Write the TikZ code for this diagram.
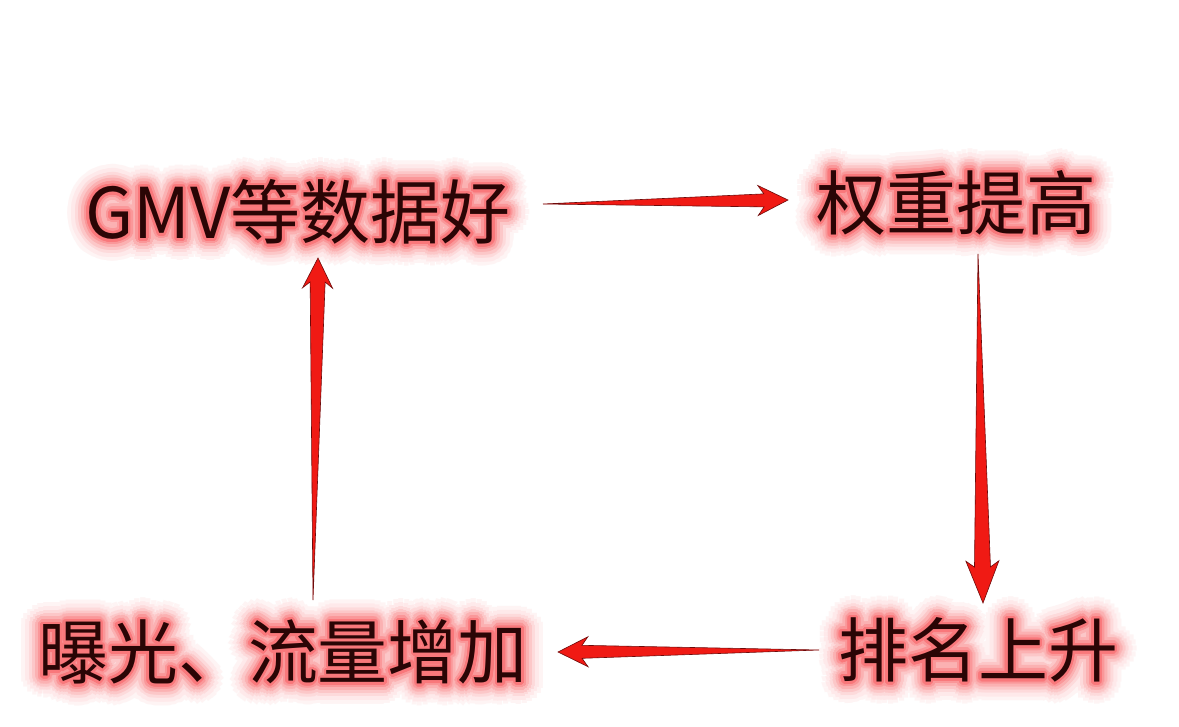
\documentclass[tikz,border=0pt]{standalone}
\usepackage{xcolor}
\usepackage{tikz}
\usetikzlibrary{calc,positioning}
\usepackage{fontspec}
\newfontfamily\cjk{Noto Sans CJK SC}
\definecolor{inkred}{HTML}{2A0505}
\definecolor{glowred}{HTML}{F5262A}
\definecolor{arrowred}{HTML}{F01A14}
\definecolor{edgered}{HTML}{6E0A0A}
\pgfdeclarelayer{background}
\pgfsetlayers{background,main}

% soft red halo: rings of copies, outer ring first
\newcommand{\glowtext}[1]{%
  \foreach \gr/\gc in {22/5,18/10,14/17,11/26,8/36,5/48,2.5/62}{%
    \foreach \ga in {0,15,...,345}{%
      \pgfmathsetlengthmacro\gx{\gr*cos(\ga)}%
      \pgfmathsetlengthmacro\gy{\gr*sin(\ga)}%
      \makebox[0pt][l]{\hspace*{\gx}\raisebox{\gy}{\color{glowred!\gc!white}#1}}%
    }%
  }%
  #1}

\tikzset{
  taper back/.store in=\taperback, taper back=30pt,
  taper neck/.store in=\taperneck, taper neck=24pt,
  taper barb/.store in=\taperbarb, taper barb=15pt,
  taper width/.store in=\taperwidth, taper width=6.5pt}

\begin{document}
\begin{tikzpicture}[x=1pt,y=-1pt]

\tikzstyle{phase}=[inner sep=0pt, text=inkred,
    font=\cjk\fontsize{70}{80}\selectfont]

\tikzstyle{taper}=[fill=arrowred, draw=edgered, line width=0.6pt,
    to path={-- ($(\tikztotarget)!\taperneck!(\tikztostart)!\taperwidth!90:(\tikztostart)$)
    -- ($(\tikztotarget)!\taperback!(\tikztostart)!\taperbarb!90:(\tikztostart)$)
    -- (\tikztotarget)
    -- ($(\tikztotarget)!\taperback!(\tikztostart)!\taperbarb!-90:(\tikztostart)$)
    -- ($(\tikztotarget)!\taperneck!(\tikztostart)!\taperwidth!-90:(\tikztostart)$)
    -- cycle}]

\useasboundingbox (0,0) rectangle (1179,727);

\node[phase] (gmv) at (298,212) {\glowtext{GMV等数据好}};
\node[phase] (quanzhong) at (956,203) {\glowtext{权重提高}};
\node[phase] (paiming) at (978,650) {\glowtext{排名上升}};
\node[phase] (baoguang) at (283,652) {\glowtext{曝光、流量增加}};

\coordinate (top-s) at (543,204);
\coordinate (top-e) at (788,200);
\coordinate (right-s) at (978,254);
\coordinate (right-e) at (983,603);
\coordinate (bot-s) at (819,650);
\coordinate (bot-e) at (558,652);
\coordinate (left-s) at (313,600);
\coordinate (left-e) at (318,258);

\draw[taper] (top-s) to (top-e);
\draw[taper, taper back=42pt, taper neck=36pt, taper barb=16.5pt,
    taper width=8pt] (right-s) to (right-e);
\draw[taper] (bot-s) to (bot-e);
\draw[taper, taper width=7.5pt] (left-s) to (left-e);

    \begin{pgfonlayer}{background}
        \fill[white] (0,0) rectangle (1179,727);
    \end{pgfonlayer}

\end{tikzpicture}
\end{document}
